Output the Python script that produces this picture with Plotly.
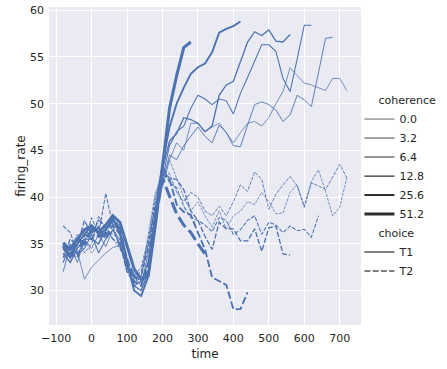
import plotly.graph_objects as go

# time axis (ms) shared by all series; each series is shorter or equal
time = list(range(-80, 740, 20))
coherence_levels = [0.0, 3.2, 6.4, 12.8, 25.6, 51.2]
choices = ["T1", "T2"]

# ---- choice T1 ----
t1_c00 = [33.5, 34.0, 34.2, 31.2, 32.5, 33.3, 34.0, 34.6, 34.8, 32.5, 30.8, 31.5, 35.0, 39.0,
          41.0, 44.0, 45.8, 45.0, 47.9, 47.9, 47.0, 47.5, 47.9, 46.9, 45.8, 46.9, 47.9, 48.1,
          47.6, 48.5, 50.0, 51.3, 53.85, 53.0, 52.2, 52.0, 51.7, 51.4, 52.7, 52.7, 51.4]
t1_c32 = [32.0, 34.8, 33.0, 35.5, 34.5, 36.0, 34.7, 36.5, 35.5, 32.0, 31.5, 30.5, 34.0, 38.0,
          41.5, 44.5, 44.0, 45.5, 46.5, 47.5, 46.5, 45.8, 47.7, 46.9, 45.5, 45.4, 47.7, 49.9,
          50.2, 49.9, 49.3, 48.1, 48.8, 50.9, 50.4, 49.7, 53.3, 57.0, 57.1]
t1_c64 = [33.0, 35.0, 33.8, 34.5, 36.0, 34.0, 35.5, 36.5, 35.0, 32.5, 30.5, 31.0, 33.0, 38.5,
          42.0, 45.5, 47.0, 47.6, 49.5, 50.9, 50.5, 49.9, 50.5, 50.3, 48.9, 51.1, 52.8, 54.6,
          56.3, 56.3, 55.6, 52.7, 51.3, 54.8, 58.4, 58.4]
t1_c128 = [34.0, 33.0, 34.5, 35.5, 35.5, 35.0, 36.5, 37.5, 36.0, 33.0, 30.5, 30.0, 32.0, 37.0,
           43.0, 46.0, 46.8, 48.5, 48.3, 47.9, 47.0, 47.6, 50.9, 52.0, 52.4, 54.5, 56.6, 57.7,
           57.3, 57.9, 56.7, 56.6, 57.4]
t1_c256 = [34.5, 33.5, 35.0, 36.0, 37.0, 36.0, 36.5, 37.7, 36.5, 33.0, 30.0, 29.4, 31.5, 37.5,
           43.5, 47.5, 50.0, 51.7, 53.2, 53.9, 54.3, 55.5, 57.6, 58.0, 58.3, 58.8]
t1_c512 = [35.1, 34.4, 35.5, 36.5, 36.9, 36.2, 37.0, 38.0, 37.3, 34.8, 32.3, 31.2, 31.6, 37.0,
           43.5, 49.5, 53.0, 56.0, 56.6]

# ---- choice T2 ----
t2_c00 = [34.0, 33.0, 35.0, 35.5, 34.0, 35.0, 37.0, 35.5, 34.5, 33.0, 32.0, 31.5, 36.0, 40.5,
          42.0, 44.0, 42.0, 40.0, 38.5, 39.5, 38.0, 36.8, 38.5, 36.6, 38.0, 38.5, 39.5, 39.2,
          40.5, 39.5, 38.2, 38.3, 40.5, 41.3, 39.0, 41.7, 42.9, 40.6, 38.0, 38.9, 42.05]
t2_c32 = [33.0, 34.5, 36.0, 34.0, 35.0, 38.0, 36.5, 36.0, 35.5, 32.5, 31.5, 32.5, 35.5, 40.0,
          43.0, 42.5, 40.5, 39.5, 40.5, 40.0, 38.5, 38.0, 39.0, 38.0, 39.5, 41.3, 40.6, 42.7,
          41.9, 38.7, 40.3, 41.3, 42.2, 41.2, 38.9, 41.5, 41.2, 40.8, 42.2, 43.5, 42.05]
t2_c64 = [36.9, 36.2, 34.0, 35.0, 37.8, 36.0, 40.4, 37.0, 34.5, 33.0, 31.5, 32.0, 35.0, 39.5,
          43.5, 41.5, 41.0, 39.0, 37.8, 37.5, 37.0, 36.3, 37.8, 37.5, 36.0, 36.5, 37.5, 38.0,
          36.0, 37.3, 37.0, 36.2, 36.9, 36.4, 36.55, 35.7, 38.0]
t2_c128 = [33.5, 35.5, 34.8, 37.5, 36.0, 37.5, 36.8, 35.5, 35.0, 32.0, 30.8, 31.5, 34.5, 39.0,
           43.0, 42.0, 41.9, 40.8, 38.5, 37.5, 35.8, 34.4, 37.3, 36.6, 36.6, 35.3, 35.3, 36.6,
           34.2, 36.7, 36.9, 33.9, 33.8]
t2_c256 = [35.0, 34.0, 33.5, 36.0, 35.5, 36.8, 35.5, 37.0, 36.0, 33.5, 31.0, 30.5, 33.0, 38.0,
           42.5, 41.9, 39.2, 38.4, 38.1, 36.2, 34.4, 31.4, 31.0, 30.6, 28.0, 28.0, 29.8]
t2_c512 = [34.8, 33.5, 35.5, 35.0, 36.5, 35.8, 36.0, 37.8, 36.5, 33.0, 31.5, 31.0, 32.0, 37.5,
           42.0, 40.0, 38.2, 37.0, 36.2, 35.0, 33.9]

series = {
    "T1": [t1_c00, t1_c32, t1_c64, t1_c128, t1_c256, t1_c512],
    "T2": [t2_c00, t2_c32, t2_c64, t2_c128, t2_c256, t2_c512],
}

COLOR = "#4C72B0"
W_MIN, W_MAX = 0.75, 3.0
FONT = "DejaVu Sans"
TXT = "#262626"
NB = "\u00a0"


def width_for(c):
    lo, hi = min(coherence_levels), max(coherence_levels)
    return W_MIN + (c - lo) / (hi - lo) * (W_MAX - W_MIN)


def dash_for(choice, w):
    if choice == "T1":
        return "solid"
    return f"{4 * w:.2f}px,{1.5 * w:.2f}px"


fig = go.Figure()
for choice in choices:
    for c, vals in zip(coherence_levels, series[choice]):
        w = width_for(c)
        fig.add_trace(go.Scatter(
            x=time[:len(vals)], y=vals, mode="lines",
            line=dict(color=COLOR, width=w, dash=dash_for(choice, w)),
            showlegend=False, hoverinfo="skip",
        ))

# legend entries
for i, c in enumerate(coherence_levels):
    fig.add_trace(go.Scatter(
        x=[None], y=[None], mode="lines", name=f"{c:.1f}",
        line=dict(color="#2e2e2e", width=width_for(c)),
        legendgroup="coherence",
        legendgrouptitle=dict(text=NB * 4 + "coherence" if i == 0 else None,
                              font=dict(size=11, color=TXT, family=FONT)),
    ))
for i, ch in enumerate(choices):
    fig.add_trace(go.Scatter(
        x=[None], y=[None], mode="lines", name=ch,
        line=dict(color="#555555", width=1.5, dash=dash_for(ch, 1.5)),
        legendgroup="choice",
        legendgrouptitle=dict(text=NB * 4 + "choice" if i == 0 else None,
                              font=dict(size=11, color=TXT, family=FONT)),
    ))

axis_common = dict(
    showgrid=True, gridcolor="white", gridwidth=1.1, zeroline=False,
    showline=False, ticks="", automargin=False,
    tickfont=dict(size=11, color=TXT, family=FONT),
    title_font=dict(size=12, color=TXT, family=FONT),
)

fig.update_layout(
    width=447, height=369,
    margin=dict(l=49, r=86, t=7, b=44, autoexpand=False),
    paper_bgcolor="white", plot_bgcolor="#EAEAF2",
    font=dict(family=FONT, size=11, color=TXT),
    xaxis=dict(axis_common, range=[-120, 760], tickvals=list(range(-100, 800, 100)),
               ticklabelstandoff=5, title=dict(text="time", standoff=5)),
    yaxis=dict(axis_common, range=[26.3, 60.35], tickvals=list(range(30, 65, 5)),
               ticklabelstandoff=4, title=dict(text="firing_rate", standoff=1)),
    legend=dict(x=0.995, xanchor="left", y=0.753, yanchor="top",
                bgcolor="rgba(0,0,0,0)", tracegroupgap=0,
                font=dict(size=11, color=TXT, family=FONT),
                traceorder="grouped", itemwidth=30),
    hovermode=False,
)

fig.write_html("out.html", config={"displayModeBar": False},
               post_script="document.body.style.margin='0';")
